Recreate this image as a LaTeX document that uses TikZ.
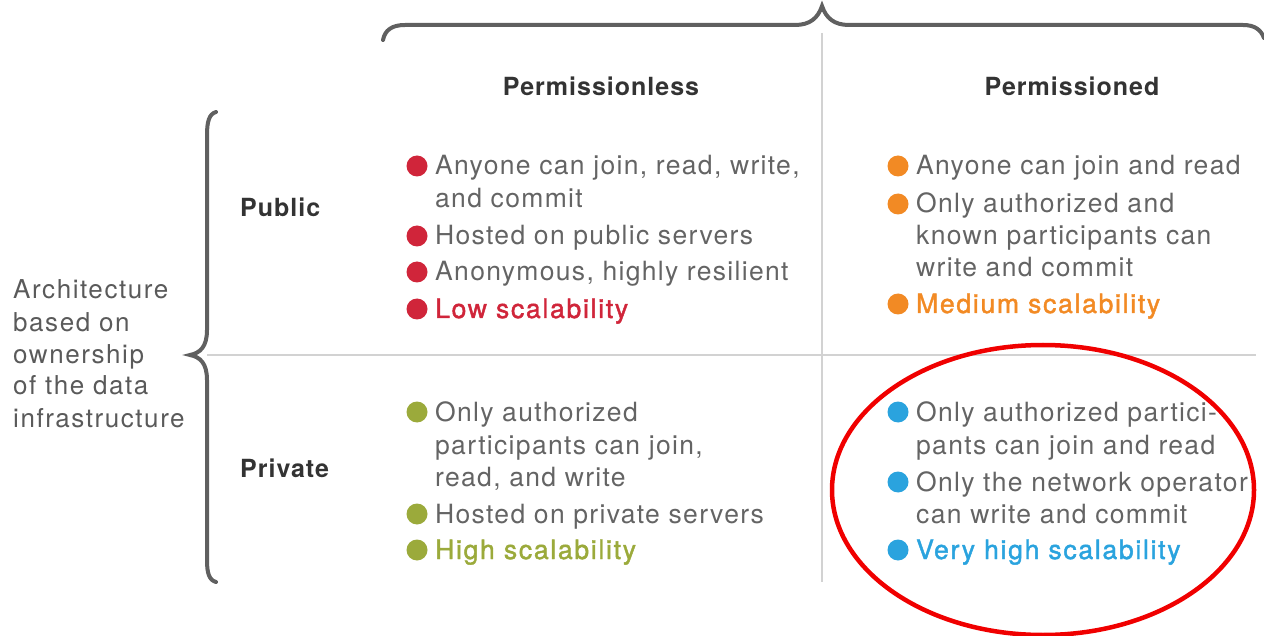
\documentclass[tikz,border=0pt]{standalone}
\usepackage{fontspec}
\setmainfont{TeX Gyre Heros}
\newfontfamily\bodyfont[LetterSpace=5]{TeX Gyre Heros}
\newfontfamily\hlfont[LetterSpace=6.5,FakeBold=1.6]{TeX Gyre Heros}
\newfontfamily\sidefont[LetterSpace=6]{TeX Gyre Heros}
\newfontfamily\headfont[LetterSpace=4]{TeX Gyre Heros}
\usetikzlibrary{shapes.geometric}
\definecolor{cred}{HTML}{D0253A}
\definecolor{corange}{HTML}{F28A24}
\definecolor{cgreen}{HTML}{9BAA3B}
\definecolor{cblue}{HTML}{2AA3DE}
\definecolor{textgray}{HTML}{646464}
\definecolor{headgray}{HTML}{333333}
\definecolor{bracegray}{HTML}{606060}
\definecolor{gridgray}{HTML}{D2D2D2}
\definecolor{ringred}{HTML}{F00000}
\begin{document}
\begin{tikzpicture}[x=1pt,y=-1pt,
  txt/.style={anchor=base west, inner sep=0pt, font=\bodyfont\fontsize{26.5}{30}\selectfont, text=textgray},
  hilite/.style={anchor=base west, inner sep=0pt, font=\hlfont\fontsize{26.5}{30}\selectfont, text=#1},
  head/.style={anchor=base, inner sep=0pt, font=\headfont\bfseries\fontsize{25}{30}\selectfont, text=headgray},
  rowhead/.style={anchor=base west, inner sep=0pt, font=\headfont\bfseries\fontsize{25}{30}\selectfont, text=headgray},
  sidelabel/.style={anchor=base west, inner sep=0pt, font=\sidefont\fontsize{26}{30}\selectfont, text=textgray!90!black},
  bulletdot/.style={circle, fill=#1, minimum size=21pt, inner sep=0pt},
  bracestyle/.style={draw=bracegray, line width=4pt, line cap=round},
  gridline/.style={draw=gridgray, line width=1.8pt}
]
\useasboundingbox (0,0) rectangle (1264,636);

% grid
\coordinate (vtop) at (822,33);
\coordinate (vbot) at (822,582);
\coordinate (hleft) at (207,355);
\coordinate (hright) at (1256,355);
\draw[gridline] (vtop) -- (vbot);
\draw[gridline] (hleft) -- (hright);

% top brace
\draw[bracestyle] (383,40) .. controls (385,30) and (392,25) .. (405,25) -- (795,25)
  .. controls (810,25) and (818,18) .. (822,6)
  .. controls (826,18) and (834,25) .. (849,25) -- (1243,25)
  .. controls (1255,25) and (1261,30) .. (1264,38);

% left brace
\draw[bracestyle] (216,112) .. controls (209,114) and (207,122) .. (207,135) -- (207,330)
  .. controls (207,347) and (200,353) .. (190,355)
  .. controls (200,357) and (207,363) .. (207,380) -- (207,560)
  .. controls (207,573) and (209,580) .. (216,582);

% column heads
\node[head] (colA) at (601,96) {Permissionless};
\node[head] (colB) at (1072,96) {Permissioned};

% row heads
\node[rowhead] (rowA) at (240,217) {Public};
\node[rowhead] (rowB) at (240,477) {Private};

% side label
\node[sidelabel] (s1) at (13,299) {Architecture};
\node[sidelabel] (s2) at (13,331) {based on};
\node[sidelabel] (s3) at (13,363) {ownership};
\node[sidelabel] (s4) at (13,395) {of the data};
\node[sidelabel] (s5) at (13,427) {infrastructure};

% public / permissionless
\node[bulletdot=cred] (a1d) at (417,166) {};
\node[txt] (a1a) at (435,175) {Anyone can join, read, write,};
\node[txt] (a1b) at (435,208) {and commit};
\node[bulletdot=cred] (a2d) at (417,236) {};
\node[txt] (a2a) at (435,245) {Hosted on public servers};
\node[bulletdot=cred] (a3d) at (417,272) {};
\node[txt] (a3a) at (435,281) {Anonymous, highly resilient};
\node[bulletdot=cred] (a4d) at (417,309) {};
\node[hilite=cred] (a4a) at (435,318) {Low scalability};

% public / permissioned
\node[bulletdot=corange] (b1d) at (898,166) {};
\node[txt] (b1a) at (916,175) {Anyone can join and read};
\node[bulletdot=corange] (b2d) at (898,204) {};
\node[txt] (b2a) at (916,213) {Only authorized and};
\node[txt] (b2b) at (916,245) {known participants can};
\node[txt] (b2c) at (916,277) {write and commit};
\node[bulletdot=corange] (b3d) at (898,304) {};
\node[hilite=corange] (b3a) at (916,313) {Medium scalability};

% private / permissionless
\node[bulletdot=cgreen] (c1d) at (417,412) {};
\node[txt] (c1a) at (435,421) {Only authorized};
\node[txt] (c1b) at (435,454) {participants can join,};
\node[txt] (c1c) at (435,486) {read, and write};
\node[bulletdot=cgreen] (c2d) at (417,514) {};
\node[txt] (c2a) at (435,523) {Hosted on private servers};
\node[bulletdot=cgreen] (c3d) at (417,550) {};
\node[hilite=cgreen] (c3a) at (435,559) {High scalability};

% private / permissioned
\node[bulletdot=cblue] (d1d) at (898,412) {};
\node[txt] (d1a) at (916,421) {Only authorized partici-};
\node[txt] (d1b) at (916,454) {pants can join and read};
\node[bulletdot=cblue] (d2d) at (898,482) {};
\node[txt] (d2a) at (916,491) {Only the network operator};
\node[txt] (d2b) at (916,523) {can write and commit};
\node[bulletdot=cblue] (d3d) at (898,550) {};
\node[hilite=cblue] (d3a) at (916,559) {Very high scalability};

% red ring
\node[draw=ringred, line width=4.5pt, ellipse, minimum width=422pt, minimum height=290pt, inner sep=0pt] (ring) at (1043,490) {};
\end{tikzpicture}
\end{document}
